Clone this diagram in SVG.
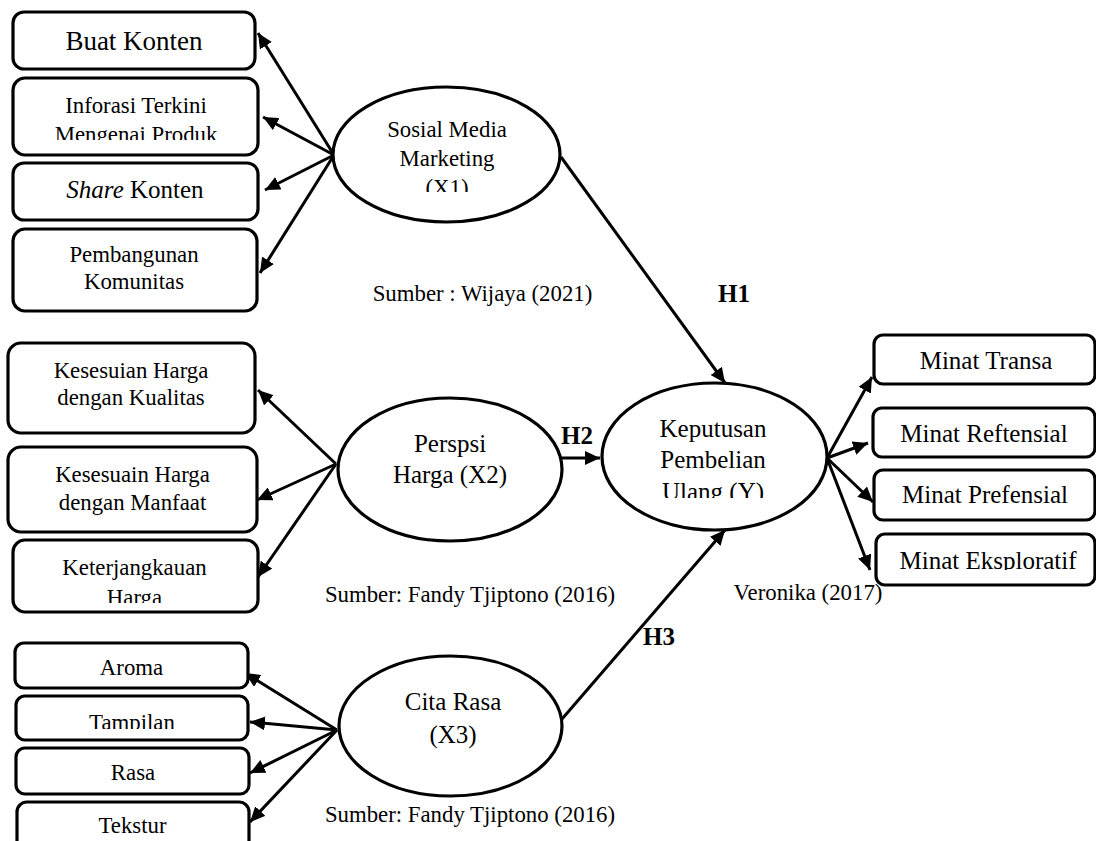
<svg xmlns="http://www.w3.org/2000/svg" width="1096" height="841" viewBox="0 0 1096 841">
<style>
.box{fill:#fff;stroke:#000;stroke-width:3.2}
.ell{fill:#fff;stroke:#000;stroke-width:3.2}
.t{font-family:"Liberation Serif","Times New Roman",serif;fill:#000;text-anchor:middle}
.s22{font-size:22.8px}
.s25{font-size:25px}
.s27{font-size:27px}
.s24{font-size:25px}
.h{font-family:"Liberation Serif","Times New Roman",serif;font-weight:bold;font-size:25px;fill:#000}
.c{stroke:#000;stroke-width:3;fill:none;marker-end:url(#ah)}
</style>
<defs>
<marker id="ah" markerUnits="userSpaceOnUse" markerWidth="16" markerHeight="14" refX="15" refY="7" orient="auto">
<path d="M0,0 L15,7 L0,14 z" fill="#000"/>
</marker>
<clipPath id="cp1"><rect x="0" y="0" width="1096" height="140"/></clipPath>
<clipPath id="cp2"><rect x="0" y="0" width="1096" height="192"/></clipPath>
<clipPath id="cp3"><rect x="0" y="0" width="1096" height="498"/></clipPath>
<clipPath id="cp4"><rect x="0" y="0" width="1096" height="603"/></clipPath>
<clipPath id="cp5"><rect x="0" y="0" width="1096" height="729"/></clipPath>
<clipPath id="cp6"><rect x="0" y="0" width="1096" height="570"/></clipPath>
</defs>
<rect width="1096" height="841" fill="#fff"/>

<g id="connectors">
<line class="c" x1="334" y1="155" x2="258" y2="33"/>
<line class="c" x1="334" y1="155" x2="263" y2="117"/>
<line class="c" x1="334" y1="155" x2="265" y2="190"/>
<line class="c" x1="334" y1="155" x2="260" y2="273"/>
<line class="c" x1="336" y1="464" x2="258" y2="390"/>
<line class="c" x1="336" y1="464" x2="257" y2="500"/>
<line class="c" x1="336" y1="464" x2="258" y2="577"/>
<line class="c" x1="337" y1="730" x2="245" y2="673"/>
<line class="c" x1="337" y1="730" x2="250" y2="722"/>
<line class="c" x1="337" y1="730" x2="250" y2="773"/>
<line class="c" x1="337" y1="730" x2="250" y2="822"/>
<line class="c" x1="561" y1="157" x2="725" y2="383"/>
<line class="c" x1="562" y1="458" x2="600" y2="458"/>
<line class="c" x1="562" y1="719" x2="725" y2="530"/>
<line class="c" x1="827" y1="458" x2="872" y2="377"/>
<line class="c" x1="827" y1="458" x2="868" y2="443"/>
<line class="c" x1="827" y1="458" x2="873" y2="502"/>
<line class="c" x1="827" y1="458" x2="870" y2="570"/>
</g>

<g id="n-buat-konten">
<rect class="box" x="13" y="12" width="242" height="57" rx="11"/>
<text class="t s27" x="134" y="50">Buat Konten</text>
</g>
<g id="n-inforasi">
<rect class="box" x="13" y="78" width="245" height="77" rx="12"/>
<text class="t s22" x="136" y="113">Inforasi Terkini</text>
<text class="t s22" x="136" y="142" clip-path="url(#cp1)">Mengenai Produk</text>
</g>
<g id="n-share">
<rect class="box" x="13" y="163" width="245" height="57" rx="11"/>
<text class="t s25" x="135" y="198"><tspan font-style="italic">Share</tspan> Konten</text>
</g>
<g id="n-pembangunan">
<rect class="box" x="13" y="229" width="244" height="82" rx="12"/>
<text class="t s22" x="134" y="262">Pembangunan</text>
<text class="t s22" x="134" y="289">Komunitas</text>
</g>

<g id="n-x1">
<ellipse class="ell" cx="446.5" cy="154.5" rx="113.5" ry="67.5"/>
<text class="t s22" x="447" y="137">Sosial Media</text>
<text class="t s22" x="447" y="166">Marketing</text>
<text class="t s22" x="447" y="195" clip-path="url(#cp2)">(X1)</text>
</g>
<text class="t s22" x="482.5" y="301">Sumber : Wijaya (2021)</text>

<g id="n-kesesuian-kualitas">
<rect class="box" x="8" y="343" width="247" height="90" rx="13"/>
<text class="t s22" x="131" y="378">Kesesuian Harga</text>
<text class="t s22" x="131" y="405">dengan Kualitas</text>
</g>
<g id="n-kesesuain-manfaat">
<rect class="box" x="8" y="447" width="249" height="85" rx="13"/>
<text class="t s22" x="132.5" y="482">Kesesuain Harga</text>
<text class="t s22" x="132.5" y="510">dengan Manfaat</text>
</g>
<g id="n-keterjangkauan">
<rect class="box" x="13" y="540" width="245" height="72" rx="12"/>
<text class="t s22" x="134.5" y="575">Keterjangkauan</text>
<text class="t s22" x="134.5" y="605" clip-path="url(#cp4)">Harga</text>
</g>

<g id="n-x2">
<ellipse class="ell" cx="450" cy="469.5" rx="112" ry="71.5"/>
<text class="t s25" x="450" y="452">Perspsi</text>
<text class="t s25" x="450" y="483">Harga (X2)</text>
</g>
<text class="t s22" x="470" y="602">Sumber: Fandy Tjiptono (2016)</text>

<g id="n-aroma">
<rect class="box" x="15" y="643" width="233" height="45" rx="9"/>
<text class="t s22" x="131.5" y="675">Aroma</text>
</g>
<g id="n-tampilan">
<rect class="box" x="16" y="696" width="232" height="44" rx="9"/>
<text class="t s22" x="132" y="730" clip-path="url(#cp5)">Tampilan</text>
</g>
<g id="n-rasa">
<rect class="box" x="16" y="748" width="233" height="46" rx="9"/>
<text class="t s22" x="133" y="780">Rasa</text>
</g>
<g id="n-tekstur">
<rect class="box" x="17" y="802" width="232" height="60" rx="10"/>
<text class="t s22" x="132.5" y="833">Tekstur</text>
</g>

<g id="n-x3">
<ellipse class="ell" cx="450.5" cy="726" rx="111.5" ry="70"/>
<text class="t s25" x="453" y="710">Cita Rasa</text>
<text class="t s25" x="453" y="743">(X3)</text>
</g>
<text class="t s22" x="470" y="822">Sumber: Fandy Tjiptono (2016)</text>

<g id="n-y">
<ellipse class="ell" cx="714.5" cy="456.5" rx="112.5" ry="73.5"/>
<text class="t s25" x="713" y="437">Keputusan</text>
<text class="t s25" x="713" y="468">Pembelian</text>
<text class="t s25" x="713" y="500" clip-path="url(#cp3)">Ulang (Y)</text>
</g>
<text class="t s22" x="808" y="600">Veronika (2017)</text>

<g id="n-transa">
<rect class="box" x="874" y="335" width="221" height="49" rx="9"/>
<text class="t s24" x="986" y="369">Minat Transa</text>
</g>
<g id="n-reftensial">
<rect class="box" x="873" y="408" width="222" height="49" rx="9"/>
<text class="t s24" x="984" y="442">Minat Reftensial</text>
</g>
<g id="n-prefensial">
<rect class="box" x="874" y="470" width="221" height="50" rx="9"/>
<text class="t s24" x="985" y="503">Minat Prefensial</text>
</g>
<g id="n-eksploratif">
<rect class="box" x="876" y="534" width="219" height="51" rx="9"/>
<text class="t s24" x="988" y="569" clip-path="url(#cp6)">Minat Eksploratif</text>
</g>

<text class="h" x="718" y="302">H1</text>
<text class="h" x="561" y="444">H2</text>
<text class="h" x="643" y="645">H3</text>
</svg>
